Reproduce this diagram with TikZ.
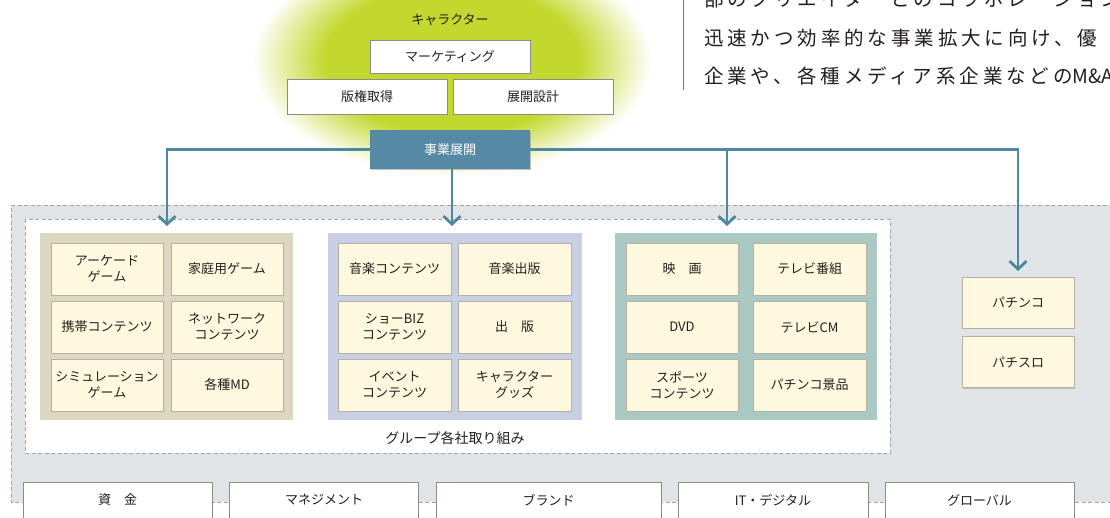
\documentclass[tikz,border=0pt]{standalone}
\usepackage{fontspec}
\setmainfont{Noto Sans CJK JP}
\newfontfamily\jp{Noto Sans CJK JP}
\newfontfamily\jpwide[LetterSpace=20]{Noto Sans CJK JP}
\usetikzlibrary{arrows.meta,shadows}
\definecolor{glowc}{HTML}{C3D82F}
\definecolor{cream}{HTML}{FEF9DE}
\definecolor{itemline}{HTML}{B5B0A0}
\definecolor{conn}{HTML}{4F87A0}
\definecolor{bizc}{HTML}{5689A3}
\definecolor{outerbg}{HTML}{E1E4E6}
\definecolor{dashc}{HTML}{A3A6A8}
\definecolor{gone}{HTML}{DDD6C1}
\definecolor{gtwo}{HTML}{C8CFE5}
\definecolor{gthree}{HTML}{AAC9C3}
\definecolor{txt}{HTML}{231F20}
\pgfdeclareradialshading{glow}{\pgfpoint{0bp}{0bp}}{color(0bp)=(glowc); color(16bp)=(glowc); color(25bp)=(white); color(50bp)=(white)}
\begin{document}
\begin{tikzpicture}[x=1pt,y=-1pt,
  every node/.style={text=txt},
  item/.style={draw=itemline, fill=cream, line width=0.8pt, minimum width=112pt, minimum height=52pt, inner sep=0pt, align=center,
    font=\jp\fontsize{13}{16}\selectfont,
    drop shadow={shadow xshift=1.2pt, shadow yshift=-1.2pt, fill=black!40, opacity=0.5}},
  wbox/.style={draw=black!45, fill=white, line width=0.8pt, minimum width=160pt, inner sep=0pt, align=center,
    font=\jp\fontsize{13}{16}\selectfont,
    drop shadow={shadow xshift=1.2pt, shadow yshift=-1.2pt, fill=black!40, opacity=0.5}},
  grp/.style={inner sep=0pt, draw=none},
  bbox/.style={draw=black!45, fill=white, line width=0.8pt, minimum width=189pt, minimum height=36pt, inner sep=0pt,
    font=\jp\fontsize{13}{16}\selectfont},
  conn/.style={draw=conn, line width=2.8pt, -{Straight Barb[length=8pt,width=17pt]}},
  plain/.style={font=\jp\fontsize{13}{16}\selectfont, inner sep=0pt},
  para/.style={font=\jpwide\fontsize{19.5}{22}\selectfont, inner sep=0pt, anchor=west}
]
\useasboundingbox (0,0) rectangle (1110,517);
\clip (0,0) rectangle (1110,517);
\fill[white] (0,0) rectangle (1110,517);

% glow
\shade[shading=glow] (452,60) ellipse (200 and 115);

% right paragraph
\draw[black!55, line width=0.8pt] (683,-2) -- (683,90);
\node[para] (p1) at (704,-1) {部のクリエイターとのコラボレーションを推};
\node[para] (p2) at (704,38) {迅速かつ効率的な事業拡大に向け、優};
\node[para] (p3) at (704,76) {企業や、各種メディア系企業などの{\jp M\&A}};

% top boxes
\node[plain] (chara) at (450,20) {キャラクター};
\node[wbox, minimum height=33pt] (mkt) at (450,56.5) {マーケティング};
\node[wbox, minimum height=35pt] (rights) at (367,96.5) {版権取得};
\node[wbox, minimum height=35pt] (design) at (533,96.5) {展開設計};

% outer grey area
\fill[outerbg] (11,205) rectangle (1120,502);
\draw[dashc, line width=0.8pt, dash pattern=on 4pt off 2.5pt] (1120,205) -- (11,205) -- (11,502) -- (1120,502);
% inner white area
\draw[dashc, fill=white, line width=0.8pt, dash pattern=on 4pt off 2.5pt] (25,219) rectangle (890,453);
\node[plain, font=\jp\fontsize{14}{16}\selectfont] (grouplabel) at (455,438) {グループ各社取り組み};

% groups
\node[grp, fill=gone, minimum width=253pt, minimum height=187pt] (g1) at (166.5,326.5) {};
\node[grp, fill=gtwo, minimum width=254pt, minimum height=187pt] (g2) at (455,326.5) {};
\node[grp, fill=gthree, minimum width=262pt, minimum height=187pt] (g3) at (746,326.5) {};

\node[item] (a11) at (107,269) {アーケード\\ゲーム};
\node[item] (a12) at (227,269) {家庭用ゲーム};
\node[item] (a21) at (107,327) {携帯コンテンツ};
\node[item] (a22) at (227,327) {ネットワーク\\コンテンツ};
\node[item] (a31) at (107,385) {シミュレーション\\ゲーム};
\node[item] (a32) at (227,385) {各種MD};

\node[item, minimum width=113pt] (b11) at (394.5,269) {音楽コンテンツ};
\node[item, minimum width=113pt] (b12) at (514.5,269) {音楽出版};
\node[item, minimum width=113pt] (b21) at (394.5,327) {ショーBIZ\\コンテンツ};
\node[item, minimum width=113pt] (b22) at (514.5,327) {出　版};
\node[item, minimum width=113pt] (b31) at (394.5,385) {イベント\\コンテンツ};
\node[item, minimum width=113pt] (b32) at (514.5,385) {キャラクター\\グッズ};

\node[item] (c11) at (682,269) {映　画};
\node[item, minimum width=113pt] (c12) at (809.5,269) {テレビ番組};
\node[item] (c21) at (682,327) {DVD};
\node[item, minimum width=113pt] (c22) at (809.5,327) {テレビCM};
\node[item] (c31) at (682,385) {スポーツ\\コンテンツ};
\node[item, minimum width=113pt] (c32) at (809.5,385) {パチンコ景品};

\node[item, minimum height=51pt] (d1) at (1018,302.5) {パチンコ};
\node[item, minimum height=51pt] (d2) at (1018,362) {パチスロ};

% business node and connectors
\node[wbox, draw=none, fill=bizc, minimum height=39pt, text=white, drop shadow={shadow xshift=0.8pt, shadow yshift=-0.8pt, fill=black!30, opacity=0.4}] (biz) at (450,149.5) {事業展開};
\coordinate (t1) at (167,226);
\coordinate (t2) at (452,226);
\coordinate (t3) at (727,226);
\coordinate (t4) at (1018,271);
\draw[conn] (biz.west) -| (t1);
\draw[conn] (biz.south -| t2) -- (t2);
\draw[conn] (biz.east) -| (t3);
\draw[conn] (biz.east) -| (t4);

% bottom boxes
\node[bbox] (e1) at (117.5,500) {資　金};
\node[bbox] (e2) at (324,500) {マネジメント};
\node[bbox, minimum width=225pt] (e3) at (548.5,500) {ブランド};
\node[bbox, minimum width=190pt] (e4) at (773,500) {IT・デジタル};
\node[bbox] (e5) at (979.5,500) {グローバル};
\end{tikzpicture}
\end{document}
